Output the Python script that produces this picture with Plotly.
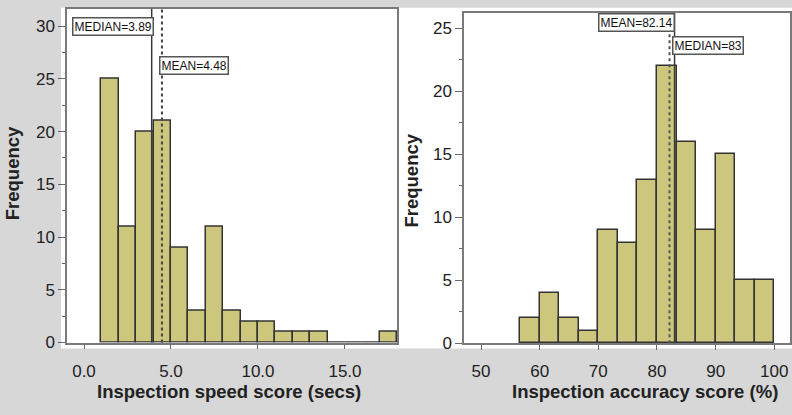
import plotly.graph_objects as go

# ---------------- data ----------------
speed_bin_left = [1, 2, 3, 4, 5, 6, 7, 8, 9, 10, 11, 12, 13, 14, 15, 16, 17]
speed_counts = [25, 11, 20, 21, 9, 3, 11, 3, 2, 2, 1, 1, 1, 0, 0, 0, 1]
speed_bin_width = 1.0
speed_mean = 4.48
speed_median = 3.89
speed_xticks = [0, 5, 10, 15]

acc_bin_left = [56.667, 60.0, 63.333, 66.667, 70.0, 73.333, 76.667, 80.0,
                83.333, 86.667, 90.0, 93.333, 96.667]
acc_counts = [2, 4, 2, 1, 9, 8, 13, 22, 16, 9, 15, 5, 5]
acc_bin_width = 3.3333
acc_mean = 82.14
acc_median = 83
acc_xticks = [50, 60, 70, 80, 90, 100]

# ---------------- style ----------------
FONT = "Liberation Sans, Arial, Helvetica, sans-serif"
BAR = "#cdc77e"
EDGE = "#333333"
W, H = 792, 415

def px_x(p):
    return p / W

def px_y(p):
    return (H - p) / H

fig = go.Figure()

fig.add_trace(go.Bar(
    x=[b + speed_bin_width / 2 for b in speed_bin_left], y=speed_counts,
    width=speed_bin_width, marker=dict(color=BAR, line=dict(color=EDGE, width=1.5)),
    xaxis="x", yaxis="y", showlegend=False, hoverinfo="skip"))

fig.add_trace(go.Bar(
    x=[b + acc_bin_width / 2 for b in acc_bin_left], y=acc_counts,
    width=acc_bin_width, marker=dict(color=BAR, line=dict(color=EDGE, width=1.5)),
    xaxis="x2", yaxis="y2", showlegend=False, hoverinfo="skip"))

axis_common = dict(showgrid=False, zeroline=False, showline=True, mirror=True,
                   linecolor="#7a7a7a", linewidth=1.5, ticks="outside",
                   tickcolor="#666666", tickfont=dict(family=FONT, size=17, color="#222222"))

fig.update_layout(
    width=W, height=H, margin=dict(l=0, r=0, t=0, b=0),
    paper_bgcolor="#d7d7d7", plot_bgcolor="#ebebeb",
    bargap=0,
    xaxis=dict(domain=[px_x(67), px_x(397)], range=[-0.977, 17.99], anchor="y",
               tickvals=speed_xticks, tickformat=".1f", ticklen=5, ticklabelstandoff=7,
               **axis_common),
    yaxis=dict(domain=[px_y(351), px_y(9)], range=[0, 31.64], anchor="x",
               dtick=5, ticklen=7,
               minor=dict(dtick=2.5, ticklen=3, ticks="outside", tickcolor="#666666"),
               **axis_common),
    xaxis2=dict(domain=[px_x(464), px_x(790)], range=[47.1, 102.68], anchor="y2",
                tickvals=acc_xticks, ticklen=5, ticklabelstandoff=7, **axis_common),
    yaxis2=dict(domain=[px_y(351.7), px_y(13.3)], range=[0, 26.23], anchor="x2",
                dtick=5, ticklen=7,
                minor=dict(dtick=2.5, ticklen=3, ticks="outside", tickcolor="#666666"),
                **axis_common),
)

# white chart backgrounds behind plot areas
fig.add_shape(type="rect", xref="paper", yref="paper", layer="below",
              x0=px_x(61), x1=px_x(397), y0=px_y(357), y1=px_y(8),
              fillcolor="#ffffff", line=dict(width=0))
fig.add_shape(type="rect", xref="paper", yref="paper", layer="below",
              x0=px_x(397), x1=1, y0=px_y(357), y1=px_y(8),
              fillcolor="#ffffff", line=dict(width=0))

# mean / median lines
fig.add_shape(type="line", xref="x", yref="y domain", x0=speed_median, x1=speed_median,
              y0=0, y1=1, line=dict(color="#3a3a3a", width=1.5))
fig.add_shape(type="line", xref="x", yref="y domain", x0=speed_mean, x1=speed_mean,
              y0=0, y1=1, line=dict(color="#444444", width=2, dash="dot"))
fig.add_shape(type="line", xref="x2", yref="y2 domain", x0=acc_median, x1=acc_median,
              y0=0, y1=1, line=dict(color="#3a3a3a", width=1.5))
fig.add_shape(type="line", xref="x2", yref="y2 domain", x0=acc_mean, x1=acc_mean,
              y0=0, y1=1, line=dict(color="#555555", width=2, dash="dot"))

box = dict(showarrow=False, bgcolor="#ffffff", bordercolor="#555555", borderwidth=1.5,
           borderpad=1, font=dict(family=FONT, size=12, color="#111111"), yanchor="middle")

fig.add_annotation(x=speed_median, y=29.93, xref="x", yref="y", xanchor="right", xshift=2.5,
                   text=f"MEDIAN={speed_median:.2f}", **box)
fig.add_annotation(x=speed_mean, y=26.24, xref="x", yref="y", xanchor="left", xshift=-3,
                   text=f"MEAN={speed_mean:.2f}", **box)
fig.add_annotation(x=acc_mean, y=25.5, xref="x2", yref="y2", xanchor="right", xshift=5,
                   text=f"MEAN={acc_mean:.2f}", **box)
fig.add_annotation(x=acc_median, y=23.67, xref="x2", yref="y2", xanchor="left", xshift=-3,
                   text=f"MEDIAN={acc_median}", **box)

# axis titles
title_font = dict(family=FONT, size=18.5, color="#222222")
fig.add_annotation(x=px_x(229), y=px_y(401.5), xref="paper", yref="paper", showarrow=False,
                   text="<b>Inspection speed score (secs)</b>", font=title_font,
                   xanchor="center", yanchor="middle")
fig.add_annotation(x=px_x(644.5), y=px_y(401.5), xref="paper", yref="paper", showarrow=False,
                   text="<b>Inspection accuracy score (%)</b>", font=title_font,
                   xanchor="center", yanchor="middle")
fig.add_annotation(x=px_x(12), y=px_y(177.5), xref="paper", yref="paper", showarrow=False,
                   text="<b>Frequency</b>", font=title_font, textangle=-90,
                   xanchor="center", yanchor="middle")
fig.add_annotation(x=px_x(412), y=px_y(185), xref="paper", yref="paper", showarrow=False,
                   text="<b>Frequency</b>", font=title_font, textangle=-90,
                   xanchor="center", yanchor="middle")

fig.write_html("out.html")
